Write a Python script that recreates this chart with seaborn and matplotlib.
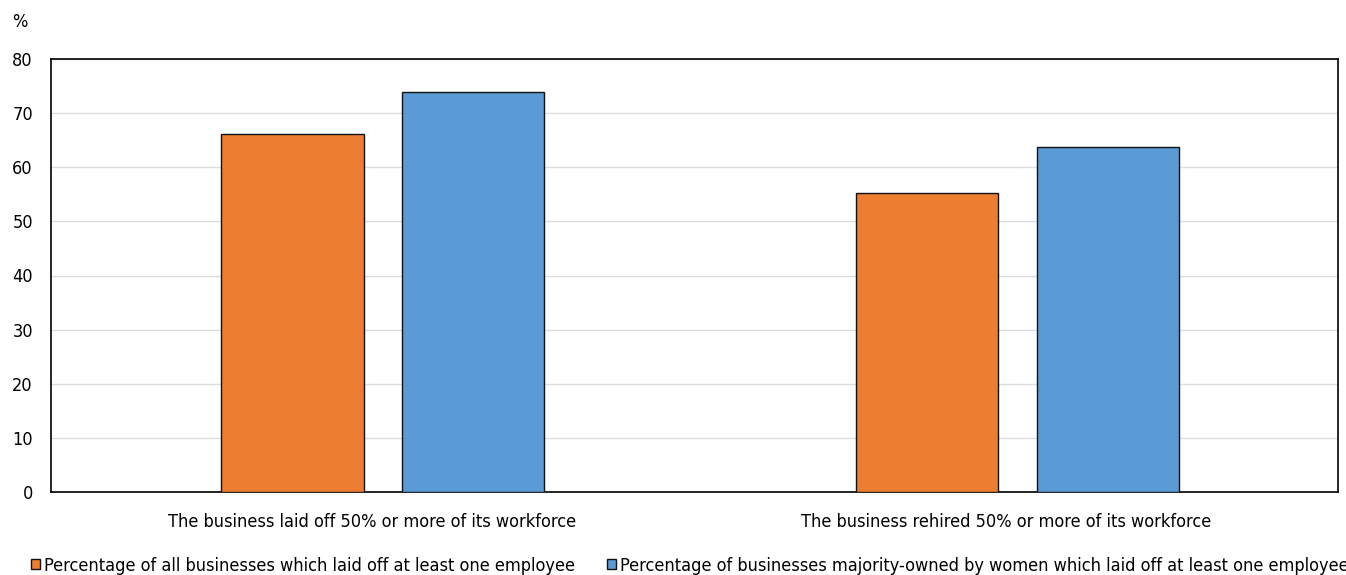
import matplotlib
matplotlib.use("Agg")
import matplotlib.pyplot as plt
import matplotlib.transforms as mtransforms
import seaborn as sns
import pandas as pd
from matplotlib.patches import Patch

categories = ["The business laid off 50% or more of its workforce",
              "The business rehired 50% or more of its workforce"]
series_names = ["Percentage of all businesses which laid off at least one employee",
                "Percentage of businesses majority-owned by women which laid off at least one employee"]
all_businesses = [66.1, 55.3]
women_owned = [73.9, 63.8]
y_ticks = [0, 10, 20, 30, 40, 50, 60, 70, 80]
colors = ["#ED7D31", "#5B9BD5"]

sns.set_theme(style="white")
plt.rcParams['font.family'] = ['DejaVu Sans']
plt.rcParams['font.stretch'] = 'condensed'

df = pd.DataFrame({
    "category": categories * 2,
    "series": [series_names[0]] * 2 + [series_names[1]] * 2,
    "value": all_businesses + women_owned,
})

fig = plt.figure(figsize=(13.46, 5.75), dpi=100)
ax = fig.add_axes([51/1346, 1 - 492/575, (1338-51)/1346, (492-59)/575])
sns.barplot(data=df, x="category", y="value", hue="series", palette=colors,
            saturation=1, width=0.57, gap=0.214, edgecolor="#111111", linewidth=1.0,
            ax=ax, legend=False, zorder=3)
ax.set_xlim(-0.523, 1.505)
ax.set_ylim(0, 80)
ax.set_yticks(y_ticks)
ax.yaxis.grid(True, color="#dcdcdc", linewidth=1.0, zorder=0)
ax.set_axisbelow(True)
ax.set_xlabel("")
ax.set_ylabel("")
for s in ax.spines.values():
    s.set_visible(True)
    s.set_color("black")
    s.set_linewidth(1.2)
ax.tick_params(axis="both", labelsize=13, colors="black", length=0)
ax.tick_params(axis="y", pad=13)
ax.tick_params(axis="x", pad=15)
offset = mtransforms.ScaledTranslation(-11/100, 0, fig.dpi_scale_trans)
for lbl in ax.get_xticklabels():
    lbl.set_transform(lbl.get_transform() + offset)
fig.text(12/1346, 1 - 22/575, "%", fontsize=13, ha="left", va="center", color="black")

handles = [Patch(facecolor=c, edgecolor="#111111", linewidth=1.0) for c in colors]
fig.legend(handles, series_names, loc="lower left", bbox_to_anchor=(24/1346, -0.012),
           ncol=2, frameon=False, fontsize=13, handlelength=0.5, handleheight=0.5,
           handletextpad=0.2, columnspacing=1.8, borderaxespad=0, labelcolor="black")
fig.savefig("out.png", dpi=100)
